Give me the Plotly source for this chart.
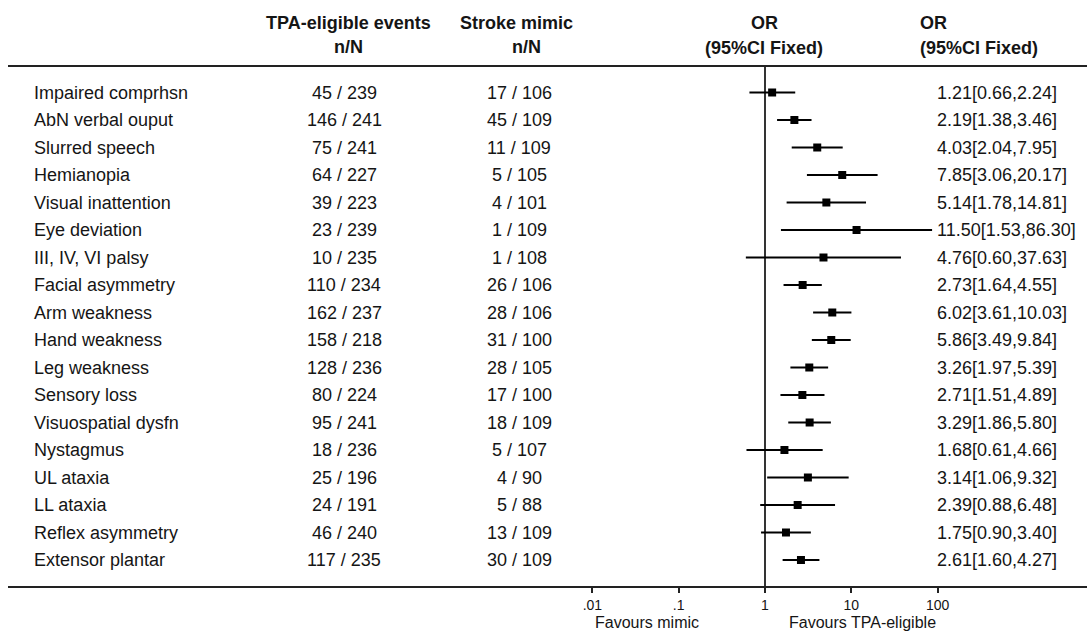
import plotly.graph_objects as go

# ---- data ----
symptoms = ["Impaired comprhsn", "AbN verbal ouput", "Slurred speech", "Hemianopia",
            "Visual inattention", "Eye deviation", "III, IV, VI palsy", "Facial asymmetry",
            "Arm weakness", "Hand weakness", "Leg weakness", "Sensory loss",
            "Visuospatial dysfn", "Nystagmus", "UL ataxia", "LL ataxia",
            "Reflex asymmetry", "Extensor plantar"]
tpa_events = [45, 146, 75, 64, 39, 23, 10, 110, 162, 158, 128, 80, 95, 18, 25, 24, 46, 117]
tpa_total = [239, 241, 241, 227, 223, 239, 235, 234, 237, 218, 236, 224, 241, 236, 196, 191, 240, 235]
mimic_events = [17, 45, 11, 5, 4, 1, 1, 26, 28, 31, 28, 17, 18, 5, 4, 5, 13, 30]
mimic_total = [106, 109, 109, 105, 101, 109, 108, 106, 106, 100, 105, 100, 109, 107, 90, 88, 109, 109]
odds_ratio = [1.21, 2.19, 4.03, 7.85, 5.14, 11.50, 4.76, 2.73, 6.02, 5.86, 3.26, 2.71,
              3.29, 1.68, 3.14, 2.39, 1.75, 2.61]
ci_low = [0.66, 1.38, 2.04, 3.06, 1.78, 1.53, 0.60, 1.64, 3.61, 3.49, 1.97, 1.51,
          1.86, 0.61, 1.06, 0.88, 0.90, 1.60]
ci_high = [2.24, 3.46, 7.95, 20.17, 14.81, 86.30, 37.63, 4.55, 10.03, 9.84, 5.39, 4.89,
           5.80, 4.66, 9.32, 6.48, 3.40, 4.27]
tick_values = [0.01, 0.1, 1, 10, 100]
tick_labels = [".01", ".1", "1", "10", "100"]

# ---- page geometry (pixels) ----
W, H = 1087, 632
PL, PB = 8, 46                 # plot area: x 8..1087, y 0..586
PLOT_W, PLOT_H = W - PL, H - PB
X_ONE, DECADE = 765.0, 86.3     # pixel of OR = 1 and width of one log decade
ROW0, ROW_STEP = 92.5, 27.5     # pixel y of first row and row pitch

x_range = [-(X_ONE - PL) / DECADE, (W - X_ONE) / DECADE]
y_range = [(PLOT_H - ROW0) / ROW_STEP, -ROW0 / ROW_STEP]


def px_x(px):
    return (px - PL) / PLOT_W


def px_y(py):
    return 1 - py / PLOT_H


FONT = "Liberation Sans, Arial, sans-serif"
TXT = "#151515"
BODY = 18

rows = list(range(len(symptoms)))

fig = go.Figure()

# confidence interval segments
seg_x, seg_y = [], []
for i, (lo, hi) in enumerate(zip(ci_low, ci_high)):
    seg_x += [lo, hi, None]
    seg_y += [i, i, None]
fig.add_trace(go.Scatter(x=seg_x, y=seg_y, mode="lines",
                         line=dict(color="#000000", width=2), hoverinfo="skip"))

# line of no effect
fig.add_trace(go.Scatter(x=[1, 1], y=[(67 - ROW0) / ROW_STEP, y_range[0]], mode="lines",
                         line=dict(color="#000000", width=1.6), hoverinfo="skip"))

# point estimates
fig.add_trace(go.Scatter(x=odds_ratio, y=rows, mode="markers",
                         marker=dict(symbol="square", size=8, color="#000000"),
                         hoverinfo="skip"))

ann = []


def add_text(text, x_px, y, anchor="left", size=BODY, bold=False, yref="y"):
    ann.append(dict(
        text=f"<b>{text}</b>" if bold else text,
        x=px_x(x_px), xref="paper", y=y, yref=yref,
        xanchor=anchor, yanchor="middle", showarrow=False, borderpad=0,
        font=dict(family=FONT, size=size, color=TXT)))


# table body
for i in rows:
    add_text(symptoms[i], 33, i)
    add_text(f"{tpa_events[i]} / {tpa_total[i]}", 344, i, "center")
    add_text(f"{mimic_events[i]} / {mimic_total[i]}", 519, i, "center")
    add_text(f"{odds_ratio[i]:.2f}[{ci_low[i]:.2f},{ci_high[i]:.2f}]", 936, i, "left")

# column headers
HSZ = 18
add_text("TPA-eligible events", 348, px_y(23), "center", HSZ, True, "paper")
add_text("n/N", 348, px_y(47), "center", HSZ, True, "paper")
add_text("Stroke mimic", 516, px_y(23), "center", HSZ, True, "paper")
add_text("n/N", 526, px_y(47), "center", HSZ, True, "paper")
add_text("OR", 764, px_y(23), "center", HSZ, True, "paper")
add_text("(95%CI Fixed)", 764, px_y(48), "center", HSZ, True, "paper")
add_text("OR", 919, px_y(23), "left", HSZ, True, "paper")
add_text("(95%CI Fixed)", 919, px_y(48), "left", HSZ, True, "paper")

# favours labels under the axis
add_text("Favours mimic", 647, px_y(622), "center", 16, False, "paper")
add_text("Favours TPA-eligible", 862, px_y(622), "center", 16, False, "paper")

fig.update_layout(
    width=W, height=H,
    margin=dict(l=PL, r=0, t=0, b=PB),
    paper_bgcolor="white", plot_bgcolor="white",
    showlegend=False,
    annotations=ann,
    shapes=[dict(type="line", xref="paper", yref="paper",
                 x0=0, x1=1, y0=px_y(66), y1=px_y(66),
                 line=dict(color="#222222", width=2))],
    xaxis=dict(type="log", range=x_range, tickvals=tick_values, ticktext=tick_labels,
               showgrid=False, zeroline=False, showline=True, linecolor="#222222",
               linewidth=2, ticks="outside", ticklen=5, tickwidth=1.5,
               tickcolor="#222222",
               tickfont=dict(family=FONT, size=14, color=TXT), fixedrange=True),
    yaxis=dict(range=y_range, visible=False, fixedrange=True),
)

fig.write_html("out.html")
